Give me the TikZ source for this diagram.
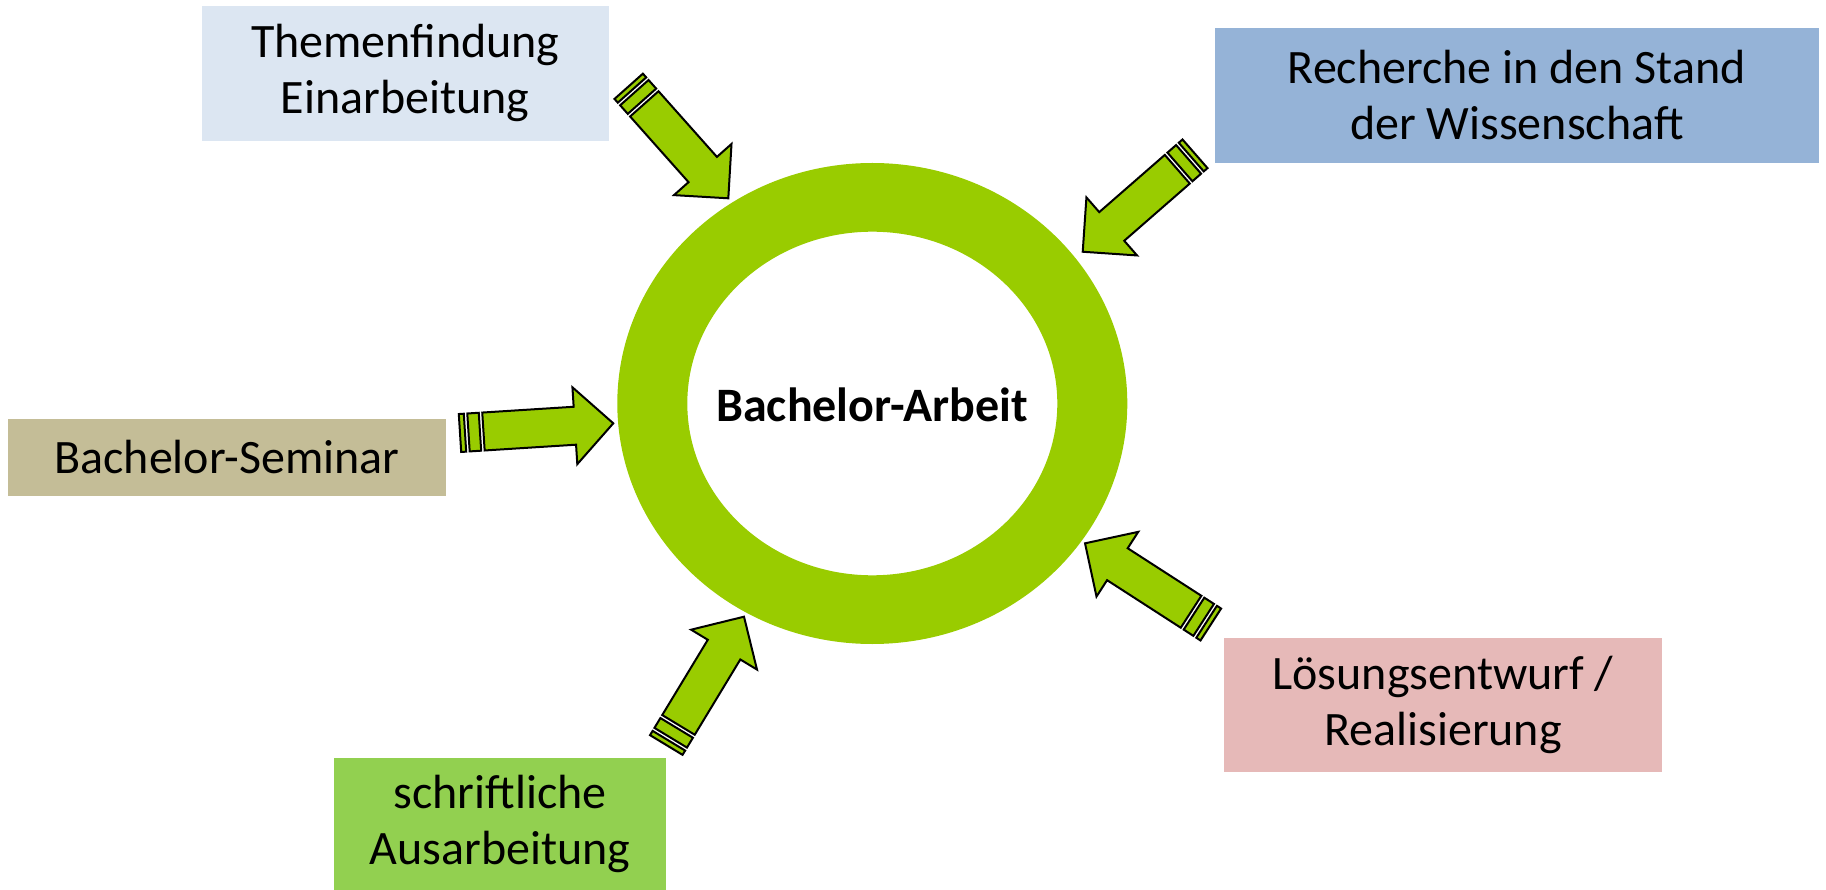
\documentclass[tikz,border=0pt]{standalone}
\usepackage{fontspec}
\setmainfont{Carlito}
\definecolor{ringgreen}{HTML}{99CC00}
\definecolor{cthemen}{HTML}{DCE6F2}
\definecolor{crecherche}{HTML}{95B3D7}
\definecolor{cseminar}{HTML}{C4BD97}
\definecolor{cschrift}{HTML}{92D050}
\definecolor{cloesung}{HTML}{E6B9B8}
\tikzset{
  box/.style={inner sep=0pt, align=center, font=\fontsize{48}{56}\selectfont},
  arrowshape/.style={fill=ringgreen, draw=black, line width=2pt, line join=miter},
  sarrow/.pic={
    \path[arrowshape] (0,-19) rectangle (5,19);
    \path[arrowshape] (8.5,-19) rectangle (20,19);
    \path[arrowshape] (23.5,-19) -- ({#1-38.5},-19) -- ({#1-38.5},-38.5) -- (#1,0)
       -- ({#1-38.5},38.5) -- ({#1-38.5},19) -- (23.5,19) -- cycle;
  }
}
\begin{document}
\begin{tikzpicture}[x=1pt,y=-1pt]
\useasboundingbox (0,0) rectangle (1826,890);
% boxes
\node[box, fill=cthemen, minimum width=407.5pt, minimum height=135.2pt] (themen) at (405.3,73.4) {Themenfindung\\Einarbeitung};
\node[box, fill=crecherche, minimum width=604.4pt, minimum height=135pt] (recherche) at (1516.8,95.5) {Recherche in den Stand\\der Wissenschaft};
\node[box, fill=cseminar, minimum width=438pt, minimum height=77pt] (seminar) at (227,457.5) {Bachelor-Seminar};
\node[box, fill=cschrift, minimum width=332pt, minimum height=132pt] (schrift) at (500,824) {schriftliche\\Ausarbeitung};
\node[box, fill=cloesung, minimum width=438pt, minimum height=134pt] (loesung) at (1443,705) {Lösungsentwurf /\\Realisierung};
% ring
\fill[ringgreen, even odd rule] (872.3,403.5) ellipse [x radius=255pt, y radius=240.5pt]
  (872.3,403.5) ellipse [x radius=185pt, y radius=171.8pt];
\node[box, font=\fontsize{48}{56}\selectfont\bfseries] (arbeit) at (872.3,405) {Bachelor-Arbeit};
% striped arrows
\pic[rotate=-48.35] at (628.7,86.3) {sarrow=149.9};
\pic[rotate=-138.9] at (1195,153.8) {sarrow=149};
\pic[rotate=3.62] at (460,433) {sarrow=153.6};
\pic[rotate=58.8] at (666.3,745) {sarrow=150};
\pic[rotate=147.16] at (1210.8,624.5) {sarrow=149.7};
\end{tikzpicture}
\end{document}
